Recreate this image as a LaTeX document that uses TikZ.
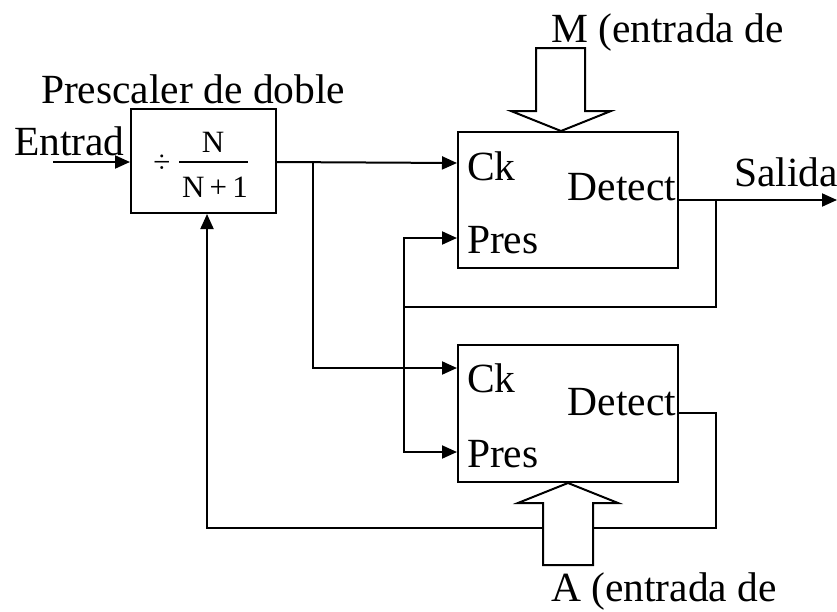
\documentclass[tikz,border=0pt]{standalone}
\usepackage{fontspec}
\setmainfont{Liberation Serif}
\usetikzlibrary{arrows.meta}
\begin{document}
\begin{tikzpicture}[x=1pt,y=-1pt, line width=2pt,
  lbl/.style={inner sep=0pt, font=\fontsize{41.5}{49}\selectfont},
  frac/.style={inner sep=0pt, font=\fontsize{31}{36}\selectfont},
  blk/.style={draw, line width=2pt, inner sep=0pt},
  sig/.style={-{Triangle[length=15pt,width=13pt]}},
  fat/.style={draw, fill=white, line width=2pt, line join=miter}]
\useasboundingbox (0,0) rectangle (837,611);

% blocks
\node[blk, minimum width=145pt, minimum height=104pt] (pre) at (203.5,161) {};
\node[blk, minimum width=220pt, minimum height=136pt] (b1) at (568,200) {};
\node[blk, minimum width=220pt, minimum height=137pt] (b2) at (568,413.5) {};

% fraction in prescaler
\node[frac, anchor=center] (fdiv) at (162,164) {÷};
\node[frac, anchor=base] (fnum) at (213,152) {N};
\node[frac, anchor=base] (fden) at (215,197) {N{\,}+{\,}1};
\draw[line width=1.5pt] (179,162) -- (248,162);

% labels
\node[lbl, anchor=base west] (tpre) at (40,103) {Prescaler de doble};
\node[lbl, anchor=base west] (tin) at (13,155) {Entrad};
\node[lbl, anchor=base west] (tm) at (550,42) {M (entrada de};
\node[lbl, anchor=base west] (tout) at (733,186) {Salida};
\node[lbl, anchor=base west] (ta) at (550,601) {A (entrada de};
\node[lbl, anchor=base west] (ck1) at (466,180) {Ck};
\node[lbl, anchor=base east] (de1) at (677,200) {Detect};
\node[lbl, anchor=base west] (pr1) at (466,253) {Pres};
\node[lbl, anchor=base west] (ck2) at (466,392) {Ck};
\node[lbl, anchor=base east] (de2) at (677,415) {Detect};
\node[lbl, anchor=base west] (pr2) at (466,467) {Pres};

% coordinates
\coordinate (inp) at (53,162);
\coordinate (out) at (837,200);
\coordinate (br) at (313,162);
\coordinate (j1) at (716,200);
\coordinate (pv) at (404,307);

% connectors
\draw[sig] (inp) -- (pre.west |- inp);
\draw[sig] (pre.east |- br) -- (b1.west |- 0,163);
\draw[sig] (br) |- (b2.west |- 0,368);
\draw[sig] (b1.east |- j1) -- (out);
\draw (j1) |- (pv);
\draw[sig] (pv) |- (b1.west |- 0,238);
\draw[sig] (pv) |- (b2.west |- 0,452);
\draw[sig] (b2.east |- 0,413) -| (716,528) -| (207,528) -- (pre.south -| 207,0);

% hollow bus arrows
\draw[fat] (536,48) -- (585,48) -- (585,111) -- (611,111) -- (b1.north -| 561,0)
  -- (511,111) -- (536,111) -- cycle;
\draw[fat] (543,565) -- (593,565) -- (593,503) -- (618,503) -- (b2.south -| 568,0)
  -- (518,503) -- (543,503) -- cycle;
\end{tikzpicture}
\end{document}
